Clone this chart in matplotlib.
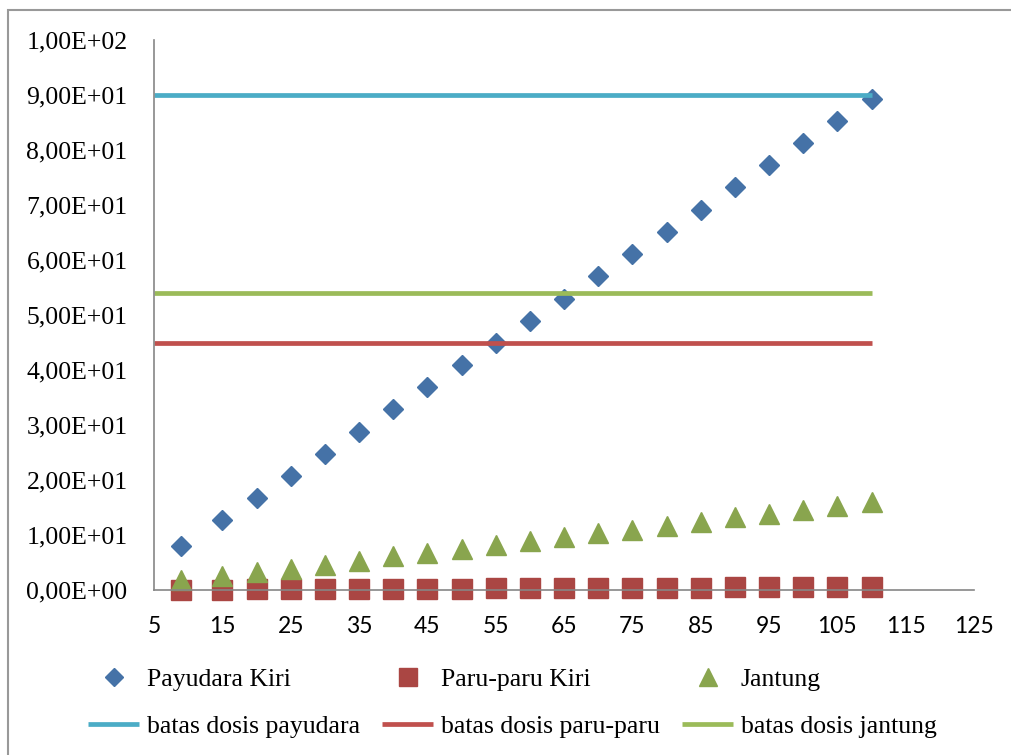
import matplotlib.pyplot as plt
from matplotlib.patches import Rectangle

# dose (y) per step along x for each organ
x = [9, 15, 20, 25, 30, 35, 40, 45, 50, 55, 60, 65, 70, 75, 80, 85, 90, 95, 100, 105, 110]
payudara = [8.0, 12.7, 16.7, 20.7, 24.8, 28.8, 32.9, 36.9, 41.0, 45.0, 49.0,
            53.0, 57.1, 61.1, 65.1, 69.1, 73.2, 77.2, 81.2, 85.2, 89.2]
paru = [0.0, 0.05, 0.1, 0.12, 0.15, 0.18, 0.2, 0.22, 0.25, 0.28, 0.3,
        0.33, 0.36, 0.38, 0.4, 0.43, 0.46, 0.49, 0.52, 0.56, 0.6]
jantung = [1.8, 2.5, 3.2, 3.9, 4.6, 5.3, 6.1, 6.8, 7.5, 8.2, 8.9,
           9.6, 10.3, 11.0, 11.7, 12.4, 13.2, 13.9, 14.6, 15.3, 16.0]

# dose limits
batas_x = [5, 110]
batas_payudara = 90
batas_paru = 45
batas_jantung = 54

serif = 'Liberation Serif'
fs = 18.5


def sci_koma(v):
    # scientific notation with a decimal comma, e.g. 9,00E+01
    s = '%.2E' % v
    return s.replace('.', ',')


fig = plt.figure(figsize=(10.11, 7.55), dpi=100)
ax = fig.add_axes([154 / 1011, 165 / 755, 820 / 1011, 550 / 755])

# outer frame
fig.patches.append(Rectangle((8 / 1011, -0.1), 1.2, (745 / 755) + 0.1, transform=fig.transFigure,
                             fill=False, edgecolor='#999999', linewidth=1.5))

h1, = ax.plot(x, payudara, linestyle='none', marker='D', markersize=10.5, color='#4572A7', clip_on=False)
h2, = ax.plot(x, paru, linestyle='none', marker='s', markersize=14.5, color='#AA4643', clip_on=False)
h3, = ax.plot(x, jantung, linestyle='none', marker='^', markersize=15, color='#89A54E', clip_on=False)

l1, = ax.plot(batas_x, [batas_payudara] * 2, color='#4BACC6', linewidth=3.4, solid_capstyle='butt')
l2, = ax.plot(batas_x, [batas_paru] * 2, color='#C0504D', linewidth=3.4, solid_capstyle='butt')
l3, = ax.plot(batas_x, [batas_jantung] * 2, color='#9BBB59', linewidth=3.4, solid_capstyle='butt')

ax.set_xlim(5, 125)
ax.set_ylim(0, 100)
yt = list(range(0, 101, 10))
ax.set_xticks(range(5, 126, 10))
ax.set_yticks(yt)
ax.set_yticklabels([sci_koma(v) for v in yt])

for s in ['top', 'right']:
    ax.spines[s].set_visible(False)
for s in ['left', 'bottom']:
    ax.spines[s].set_color('#868686')
    ax.spines[s].set_linewidth(1.2)
ax.tick_params(axis='both', length=0)
ax.tick_params(axis='y', pad=19)
ax.tick_params(axis='x', pad=19)
for t in ax.get_yticklabels():
    t.set_fontfamily(serif)
    t.set_fontsize(fs)
for t in ax.get_xticklabels():
    t.set_fontfamily('Lato')
    t.set_fontsize(16.5)

handles = [h1, l1, h2, l2, h3, l3]
labels = ['Payudara Kiri', 'batas dosis payudara', 'Paru-paru Kiri', 'batas dosis paru-paru',
          'Jantung', 'batas dosis jantung']
fig.legend(handles, labels, ncol=3, loc='center left', bbox_to_anchor=(88 / 1011, 1 - 703 / 755),
           frameon=False, prop={'family': serif, 'size': fs}, handlelength=2.0,
           handletextpad=0.3, columnspacing=0.85, labelspacing=0.9, borderaxespad=0,
           borderpad=0, markerscale=0.85)

plt.savefig('out.png', dpi=100)
